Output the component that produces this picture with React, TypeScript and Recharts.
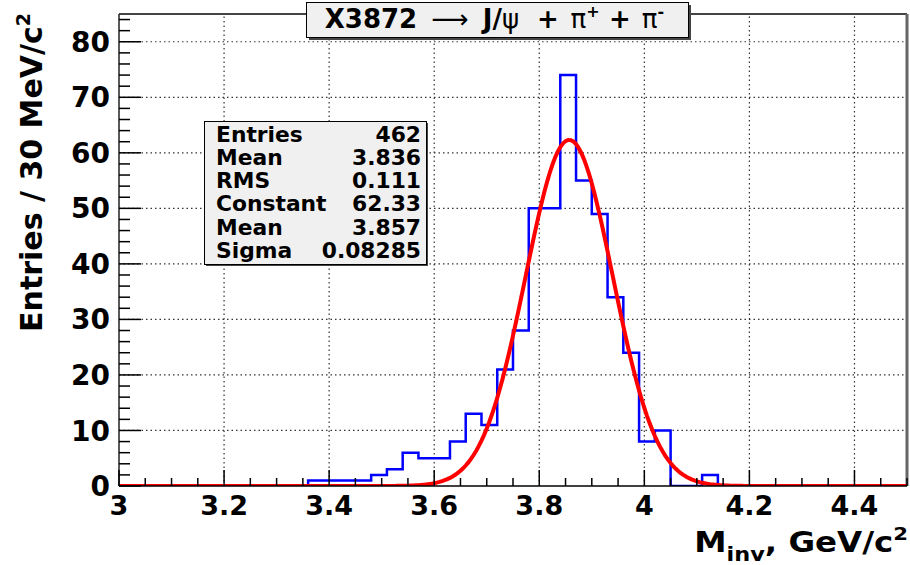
import React from "react";
import { ComposedChart, Line, XAxis, YAxis, ReferenceLine } from "recharts";

// invariant mass histogram: 50 bins of 30 MeV between 3.0 and 4.5 GeV
const histMin = 3.0;
const histMax = 4.5;
const binWidth = 0.03;
const binCounts = [
  0, 0, 0, 0, 0, 0, 0, 0, 0, 0,
  0, 0, 1, 1, 1, 1, 2, 3, 6, 5,
  5, 8, 13, 11, 21, 28, 50, 50, 74, 55,
  49, 34, 24, 8, 10, 0, 0, 2, 0, 0,
  0, 0, 0, 0, 0, 0, 0, 0, 0, 0,
];

// stats box
const statLabels = ["Entries", "Mean", "RMS", "Constant", "Mean", "Sigma"];
const statValues = ["462", "3.836", "0.111", "62.33", "3.857", "0.08285"];

// gaus fit result
const fitConstant = 62.33;
const fitMean = 3.857;
const fitSigma = 0.08285;
const fitStep = 0.005;

// axes
const xLabelTicks = [3, 3.2, 3.4, 3.6, 3.8, 4, 4.2, 4.4];
const yLabelTicks = [0, 10, 20, 30, 40, 50, 60, 70, 80];
const xMinorStep = 0.05;
const yMinorStep = 2;
const yMax = 85;

const FONT = "'DejaVu Sans', sans-serif";

const histData = binCounts
  .map((count, i) => ({ x: histMin + i * binWidth, count }))
  .concat([{ x: histMax, count: 0 }]);

const fitPoints = Math.round((histMax - histMin) / fitStep);
const fitData = Array.from({ length: fitPoints + 1 }, (_, i) => {
  const x = histMin + i * fitStep;
  const z = (x - fitMean) / fitSigma;
  return { x, fit: fitConstant * Math.exp(-0.5 * z * z) };
});

const xTicks = Array.from(
  { length: Math.round((histMax - histMin) / xMinorStep) + 1 },
  (_, i) => +(histMin + i * xMinorStep).toFixed(2)
);
const yTicks = Array.from({ length: Math.floor(yMax / yMinorStep) + 1 }, (_, i) => i * yMinorStep);

const fmtX = (v: number) => String(Math.round(v * 10) / 10);

function XTick({ x, y, payload }: any) {
  const v = payload.value;
  const major = xLabelTicks.some((t) => Math.abs(t - v) < 1e-6);
  return (
    <g>
      <line x1={x} y1={y} x2={x} y2={y - (major ? 16 : 8)} stroke="#000" strokeWidth={1.5} />
      {major && (
        <text x={x} y={y + 29} textAnchor="middle" fontFamily={FONT} fontSize={27} fontWeight="bold" fill="#000">
          {fmtX(v)}
        </text>
      )}
    </g>
  );
}

function YTick({ x, y, payload }: any) {
  const v = payload.value;
  const major = yLabelTicks.includes(v);
  return (
    <g>
      <line x1={x} y1={y} x2={x + (major ? 22 : 11)} y2={y} stroke="#000" strokeWidth={1.5} />
      {major && (
        <text x={x - 9} y={y} dy="0.36em" textAnchor="end" fontFamily={FONT} fontSize={28} fontWeight="bold" fill="#000">
          {v}
        </text>
      )}
    </g>
  );
}

function Overlay() {
  const rowY = (i: number) => 141.5 + i * 23.3;
  return (
    <svg
      width={910}
      height={565}
      style={{ position: "absolute", left: 0, top: 0, pointerEvents: "none" }}
      fontFamily={FONT}
      fontWeight="bold"
    >
      {/* title box */}
      <rect x={309} y={5} width={382} height={35} fill="#444" />
      <rect x={306.5} y={2.5} width={382} height={35} fill="#f0f0f0" stroke="#000" strokeWidth={1} />
      <g fontSize={26} textAnchor="middle">
        <text x={371} y={28}>X3872</text>
        <text x={450} y={28} fontWeight="normal">{"\u27f6"}</text>
        <text x={501} y={28}>
          J/<tspan fontWeight="normal">{"\u03c8"}</tspan>
        </text>
        <text x={548} y={28}>+</text>
        <text x={585} y={28} fontWeight="normal">
          {"\u03c0"}
          <tspan fontSize={16} fontWeight="bold" dy={-11}>+</tspan>
        </text>
        <text x={620} y={28}>+</text>
        <text x={653} y={28} fontWeight="normal">
          {"\u03c0"}
          <tspan fontSize={16} fontWeight="bold" dy={-11}>-</tspan>
        </text>
      </g>

      {/* stats box */}
      <rect x={206} y={123} width={222} height={143} fill="#444" />
      <rect x={204.5} y={121.5} width={222} height={143} fill="#f0f0f0" stroke="#000" strokeWidth={1} />
      {statLabels.map((s, i) => (
        <text key={"l" + i} x={216} y={rowY(i)} fontSize={21.8}>{s}</text>
      ))}
      {statValues.map((s, i) => (
        <text key={"v" + i} x={421} y={rowY(i)} fontSize={21.8} textAnchor="end">{s}</text>
      ))}

      {/* axis titles */}
      <text transform="translate(42,13) rotate(-90)" textAnchor="end" fontSize={30}>
        Entries / 30 MeV/c<tspan fontSize={19} dy={-12}>2</tspan>
      </text>
      <text transform="translate(908,552) scale(1.18,1)" x={0} y={0} textAnchor="end" fontSize={27.5}>
        M<tspan fontSize={19} dy={9}>inv</tspan>
        <tspan dy={-9}>, GeV/c</tspan>
        <tspan fontSize={18} dy={-12}>2</tspan>
      </text>
    </svg>
  );
}

export default function App() {
  return (
    <div style={{ position: "absolute", left: 0, top: 0, width: 910, height: 565, background: "#fff", fontFamily: FONT }}>
      <ComposedChart width={910} height={565} margin={{ top: 14, right: 3, bottom: 0, left: 0 }}>
        <XAxis
          dataKey="x"
          type="number"
          domain={[histMin, histMax]}
          allowDataOverflow
          ticks={xTicks}
          interval={0}
          height={79}
          tickSize={0}
          tickMargin={0}
          tick={(p: any) => <XTick {...p} />}
          axisLine={{ stroke: "#000", strokeWidth: 1.5 }}
        />
        <YAxis
          type="number"
          domain={[0, yMax]}
          allowDataOverflow
          ticks={yTicks}
          interval={0}
          width={119}
          tickSize={0}
          tickMargin={0}
          tick={(p: any) => <YTick {...p} />}
          axisLine={{ stroke: "#222", strokeWidth: 1.5 }}
        />
        {xLabelTicks.slice(1).map((v) => (
          <ReferenceLine key={"gx" + v} x={v} stroke="#333" strokeWidth={1.2} strokeDasharray="1.5 3" />
        ))}
        {yLabelTicks.slice(1).map((v) => (
          <ReferenceLine key={"gy" + v} y={v} stroke="#333" strokeWidth={1.2} strokeDasharray="1.5 3" />
        ))}
        <ReferenceLine y={yMax} stroke="#444" strokeWidth={2} />
        <ReferenceLine x={histMax} stroke="#666" strokeWidth={3} />
        <Line
          data={histData}
          dataKey="count"
          type="stepAfter"
          stroke="#0000ff"
          strokeWidth={2.5}
          dot={false}
          activeDot={false}
          isAnimationActive={false}
        />
        <Line
          data={fitData}
          dataKey="fit"
          type="linear"
          stroke="#ff0000"
          strokeWidth={4}
          dot={false}
          activeDot={false}
          isAnimationActive={false}
        />
      </ComposedChart>
      <Overlay />
    </div>
  );
}
